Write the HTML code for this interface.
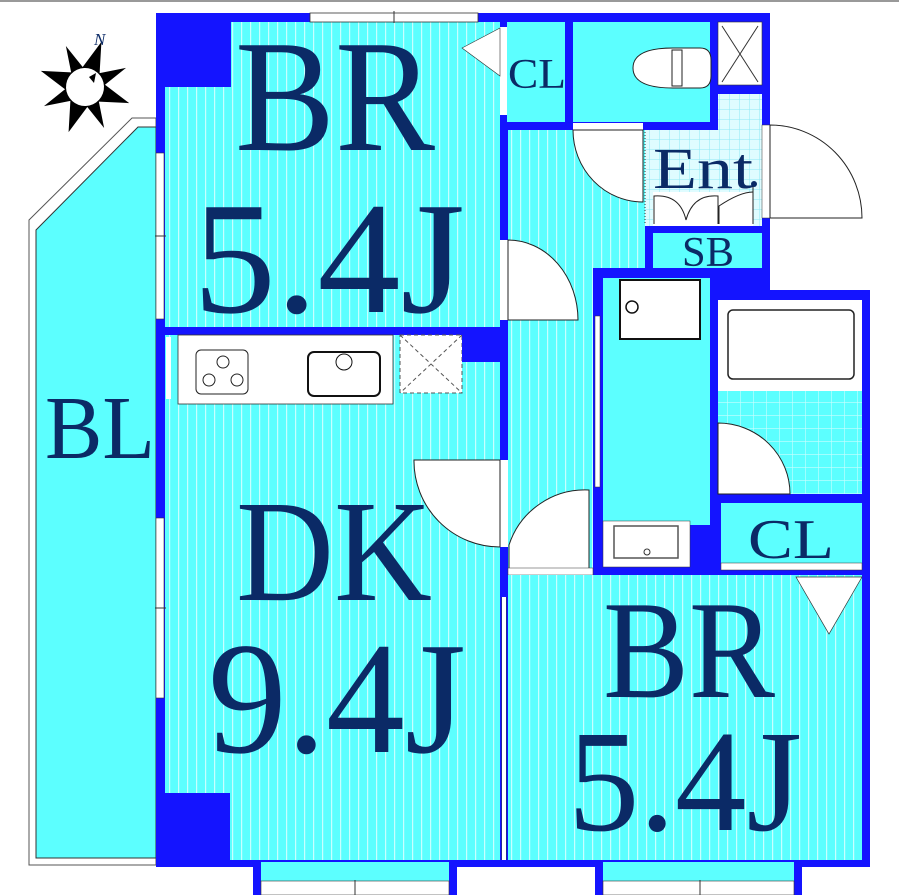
<!DOCTYPE html>
<html><head><meta charset="utf-8"><style>
html,body{margin:0;padding:0;background:#fff;}
svg{display:block;}
text{font-family:"Liberation Serif",serif;fill:#0b2a66;}
</style></head><body>
<svg width="899" height="895" viewBox="0 0 899 895" xmlns="http://www.w3.org/2000/svg">
<defs>
<pattern id="st" width="9" height="10" patternUnits="userSpaceOnUse">
<rect width="9" height="10" fill="#5cffff"/><rect x="7" width="1.2" height="10" fill="#c8ffff"/>
</pattern>
<pattern id="tile" width="10" height="10" patternUnits="userSpaceOnUse">
<rect width="10" height="10" fill="#dffcff"/><path d="M10 0V10M0 10H10" stroke="#8ee8f5" stroke-width="1"/>
</pattern>
<pattern id="tile2" width="13" height="13" patternUnits="userSpaceOnUse">
<rect width="13" height="13" fill="#5cffff"/><path d="M13 0V13M0 13H13" stroke="#c8ffff" stroke-width="1.2"/>
</pattern>
</defs>
<rect x="0" y="0" width="899" height="2" fill="#999"/>
<!-- balcony -->
<polygon points="29,220 132,118 156,118 156,865 29,865" fill="#fff" stroke="#555" stroke-width="1"/>
<polygon points="36,230 138,127 156,127 156,858 36,858" fill="#5cffff" stroke="#333" stroke-width="1"/>
<!-- main blue body -->
<rect x="156" y="13" width="614" height="290" fill="#1414ff"/>
<rect x="156" y="260" width="614" height="607" fill="#1414ff"/>
<rect x="770" y="290" width="100" height="577" fill="#1414ff"/>
<!-- BR1 -->
<rect x="165" y="22" width="335" height="305" fill="url(#st)"/>
<rect x="156" y="13" width="75" height="74" fill="#1414ff"/>
<rect x="310" y="13" width="168" height="9" fill="#fff" stroke="#333" stroke-width="0.8"/>
<line x1="394" y1="11" x2="394" y2="23" stroke="#333"/>
<rect x="156" y="153" width="8" height="166" fill="#fff" stroke="#333" stroke-width="0.6"/>
<line x1="155" y1="236" x2="166" y2="236" stroke="#333"/>
<!-- DK -->
<rect x="165" y="335" width="335" height="525" fill="url(#st)"/>
<rect x="157" y="793" width="73" height="67" fill="#1414ff"/>
<rect x="178" y="335" width="215" height="69" fill="#fff" stroke="#333" stroke-width="0.8"/>
<rect x="166" y="337" width="5" height="62" fill="#fff"/>
<rect x="196" y="350" width="52" height="44" rx="5" fill="none" stroke="#222"/>
<circle cx="223" cy="362" r="6" fill="none" stroke="#222"/><circle cx="209" cy="380" r="6" fill="none" stroke="#222"/><circle cx="237" cy="380" r="6" fill="none" stroke="#222"/>
<rect x="308" y="352" width="72" height="44" rx="6" fill="none" stroke="#111" stroke-width="2"/>
<circle cx="344" cy="362" r="8" fill="#fff" stroke="#111"/>
<rect x="400" y="335" width="62" height="58" fill="#fff" stroke="#555" stroke-dasharray="4,3"/>
<path d="M400 335L462 393M462 335L400 393" stroke="#555" stroke-dasharray="4,3"/>
<rect x="462" y="328" width="38" height="34" fill="#1414ff"/>
<rect x="156" y="518" width="8" height="180" fill="#fff" stroke="#333" stroke-width="0.6"/>
<line x1="155" y1="608" x2="166" y2="608" stroke="#333"/>
<!-- DK door -->
<rect x="500" y="460" width="8" height="87" fill="#fff"/>
<path d="M414 460H500V547A86 86 0 0 1 414 460Z" fill="#fff" stroke="#222"/>
<line x1="502" y1="597" x2="502" y2="860" stroke="#333"/><line x1="506" y1="597" x2="506" y2="860" stroke="#333"/>
<rect x="502" y="597" width="4" height="263" fill="#fff"/>
<!-- corridor -->
<rect x="508" y="130" width="85" height="445" fill="url(#st)"/>
<rect x="593" y="130" width="52" height="138" fill="url(#st)"/>
<rect x="500" y="240" width="8" height="80" fill="#fff"/>
<path d="M508 240A70 80 0 0 1 578 320H508Z" fill="#fff" stroke="#222"/>
<rect x="573" y="123" width="70" height="7" fill="#fff"/>
<path d="M573 130H643V202A70 72 0 0 1 573 130Z" fill="#fff" stroke="#222"/>
<path d="M509 571V545A80 80 0 0 1 589 490V571Z" fill="#fff" stroke="#222"/>
<rect x="508" y="568" width="85" height="7" fill="#fff" stroke="#333" stroke-width="0.5"/>
<!-- CL top / toilet -->
<rect x="507" y="22" width="58" height="100" fill="#5cffff"/>
<rect x="500" y="27" width="7" height="88" fill="#fff"/>
<path d="M500 28L462 48L500 76Z" fill="#fff" stroke="#333" stroke-width="0.6"/>
<rect x="573" y="22" width="137" height="100" fill="#5cffff"/>
<path d="M673 48H700Q711 48 711 60V76Q711 88 700 88H673Q633 88 633 68Q633 48 673 48Z" fill="#fff" stroke="#222"/>
<rect x="672" y="50" width="10" height="36" fill="#fff" stroke="#222"/>
<rect x="718" y="22" width="44" height="63" fill="#fff" stroke="#333" stroke-width="0.6"/>
<path d="M722 26L758 82M758 26L722 82" stroke="#333"/>
<!-- Entrance -->
<rect x="718" y="94" width="44" height="40" fill="url(#tile)"/>
<rect x="645" y="130" width="117" height="96" fill="url(#tile)"/>
<line x1="645" y1="132" x2="645" y2="224" stroke="#333" stroke-dasharray="1,2"/>
<rect x="762" y="125" width="8" height="93" fill="#fff" stroke="#333" stroke-width="0.5"/>
<path d="M770 125A92 93 0 0 1 862 218H770Z" fill="#fff" stroke="#222"/>
<rect x="653" y="192" width="100" height="34" fill="#fff"/>
<path d="M654 224V196Q680 194 686 220M718 224V196Q693 194 686 220M719 224V206Q740 192 753 192" fill="none" stroke="#222"/>
<line x1="753" y1="186" x2="753" y2="224" stroke="#222"/><circle cx="754" cy="184" r="3" fill="#0b2a66"/>
<rect x="653" y="233" width="109" height="35" fill="#5cffff"/>
<!-- washroom -->
<rect x="603" y="278" width="107" height="247" fill="#5cffff"/>
<rect x="595" y="316" width="5" height="171" fill="#fff" stroke="#333" stroke-width="0.5"/>
<rect x="620" y="280" width="80" height="59" fill="#fff" stroke="#111" stroke-width="2"/>
<circle cx="632" cy="307" r="6" fill="none" stroke="#111" stroke-width="1.5"/>
<rect x="603" y="521" width="87" height="46" fill="#fff" stroke="#333" stroke-width="0.5"/>
<rect x="614" y="526" width="64" height="32" fill="none" stroke="#555" stroke-width="1.5"/>
<circle cx="647" cy="552" r="3" fill="#fff" stroke="#333"/>
<!-- bath -->
<rect x="718" y="300" width="144" height="194" fill="url(#tile2)"/>
<rect x="718" y="300" width="144" height="91" fill="#fff"/>
<rect x="728" y="310" width="126" height="69" rx="5" fill="#fff" stroke="#222" stroke-width="1.5"/>
<path d="M718 423A72 71 0 0 1 790 494H718Z" fill="#fff" stroke="#222"/>
<!-- CL2 -->
<rect x="721" y="503" width="141" height="60" fill="#5cffff"/>
<rect x="721" y="563" width="141" height="7" fill="#fff" stroke="#333" stroke-width="0.5"/>
<!-- BR2 -->
<rect x="508" y="575" width="354" height="285" fill="url(#st)"/>
<path d="M796 577L862 577L829 634Z" fill="#fff" stroke="#333" stroke-width="0.7"/>
<!-- bottom windows -->
<rect x="253" y="860" width="204" height="35" fill="#1414ff"/>
<rect x="261" y="862" width="188" height="33" fill="#5cffff"/>
<rect x="261" y="881" width="188" height="14" fill="#fff" stroke="#333" stroke-width="0.6"/>
<line x1="355" y1="880" x2="355" y2="895" stroke="#333"/>
<rect x="595" y="860" width="207" height="35" fill="#1414ff"/>
<rect x="603" y="862" width="191" height="33" fill="#5cffff"/>
<rect x="603" y="881" width="191" height="14" fill="#fff" stroke="#333" stroke-width="0.6"/>
<line x1="700" y1="880" x2="700" y2="895" stroke="#333"/>
<!-- compass -->
<g transform="translate(85,87) rotate(20)">
<polygon points="0,-48 9,-18 32,-32 18,-9 47,0 18,9 32,32 9,18 0,48 -9,18 -32,32 -18,9 -47,0 -18,-9 -32,-32 -9,-18" fill="#000"/>
<circle r="19" fill="#fff"/>
</g>
<path d="M89 77L96 73L94 83Z" fill="#000"/>
<text x="94" y="45" font-size="17" font-style="italic">N</text>
<!-- labels -->
<text x="235" y="150" font-size="160" textLength="200" lengthAdjust="spacingAndGlyphs">BR</text>
<text x="193" y="312" font-size="160" textLength="272" lengthAdjust="spacingAndGlyphs">5.4J</text>
<text x="236" y="600" font-size="145" textLength="196" lengthAdjust="spacingAndGlyphs">DK</text>
<text x="208" y="752" font-size="160" textLength="258" lengthAdjust="spacingAndGlyphs">9.4J</text>
<text x="603" y="697" font-size="140" textLength="172" lengthAdjust="spacingAndGlyphs">BR</text>
<text x="568" y="830" font-size="145" textLength="234" lengthAdjust="spacingAndGlyphs">5.4J</text>
<text x="45" y="458" font-size="90" textLength="110" lengthAdjust="spacingAndGlyphs">BL</text>
<text x="508" y="88" font-size="42" textLength="58" lengthAdjust="spacingAndGlyphs">CL</text>
<text x="748" y="558" font-size="56" textLength="86" lengthAdjust="spacingAndGlyphs">CL</text>
<text x="653" y="188" font-size="58" textLength="100" lengthAdjust="spacingAndGlyphs">Ent</text>
<text x="682" y="266" font-size="42" textLength="52" lengthAdjust="spacingAndGlyphs">SB</text>
</svg>
</body></html>
